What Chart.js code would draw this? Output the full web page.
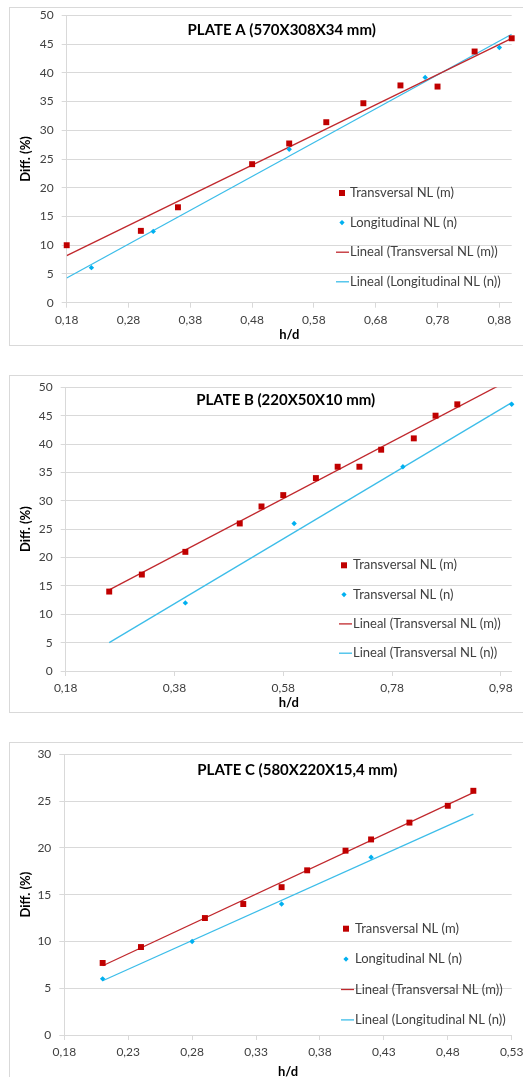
<!DOCTYPE html>
<html>
<head>
<meta charset="utf-8">
<script src="https://cdn.jsdelivr.net/npm/chart.js@4.4.0/dist/chart.umd.min.js"></script>
<style>
body{margin:0;background:#fff;overflow:hidden;width:523px;height:1077px;position:relative;}
.box{position:absolute;left:9px;width:530px;border:1px solid #d9d9d9;background:#fff;}
.box canvas{display:block;}
</style>
</head>
<body>
<div class="box" style="top:7px;height:337px"><canvas id="plateA" width="514" height="337"></canvas></div>
<div class="box" style="top:375px;height:336px"><canvas id="plateB" width="514" height="336"></canvas></div>
<div class="box" style="top:742px;height:340px"><canvas id="plateC" width="514" height="340"></canvas></div>
<script>
// PLATE A
var xTransA = [0.18, 0.30, 0.36, 0.48, 0.54, 0.60, 0.66, 0.72, 0.78, 0.84, 0.90];
var yTransA = [10.0, 12.5, 16.6, 24.1, 27.7, 31.4, 34.7, 37.8, 37.6, 43.7, 46.0];
var xLongA = [0.22, 0.32, 0.54, 0.76, 0.88];
var yLongA = [6.1, 12.4, 26.7, 39.2, 44.4];
var trendXA = [0.18, 0.90];
var trendTransA = [8.2, 46.0];
var trendLongA = [4.3, 46.7];
var ticksA = [0.18, 0.28, 0.38, 0.48, 0.58, 0.68, 0.78, 0.88];
var namesA = ['Transversal NL (m)', 'Longitudinal NL (n)', 'Lineal (Transversal NL (m))', 'Lineal (Longitudinal NL (n))'];

// PLATE B
var xTransB = [0.26, 0.32, 0.40, 0.50, 0.54, 0.58, 0.64, 0.68, 0.72, 0.76, 0.82, 0.86, 0.90];
var yTransB = [14, 17, 21, 26, 29, 31, 34, 36, 36, 39, 41, 45, 47];
var xLongB = [0.40, 0.60, 0.80, 1.00];
var yLongB = [12, 26, 36, 47];
var trendXB = [0.26, 1.00];
var trendTransB = [14.3, 51.5];
var trendLongB = [5.0, 47.3];
var ticksB = [0.18, 0.38, 0.58, 0.78, 0.98];
var namesB = ['Transversal NL (m)', 'Transversal NL (n)', 'Lineal (Transversal NL (m))', 'Lineal (Transversal NL (n))'];

// PLATE C
var xTransC = [0.21, 0.24, 0.29, 0.32, 0.35, 0.37, 0.40, 0.42, 0.45, 0.48, 0.50];
var yTransC = [7.7, 9.4, 12.5, 14.0, 15.8, 17.6, 19.7, 20.9, 22.7, 24.5, 26.1];
var xLongC = [0.21, 0.28, 0.35, 0.42];
var yLongC = [6.0, 10.0, 14.0, 19.0];
var trendXC = [0.21, 0.50];
var trendTransC = [7.4, 25.9];
var trendLongC = [5.8, 23.6];
var ticksC = [0.18, 0.23, 0.28, 0.33, 0.38, 0.43, 0.48, 0.53];
var namesC = ['Transversal NL (m)', 'Longitudinal NL (n)', 'Lineal (Transversal NL (m))', 'Lineal (Longitudinal NL (n))'];

var RED = '#c00000', BLUE = '#00b0f0';
var RED_LINE = '#c0282d', BLUE_LINE = '#3cbde9';
var GRID = '#d9d9d9', TEXT = '#404040';

Chart.defaults.font.family = "Lato, 'Open Sans', sans-serif";
Chart.defaults.color = TEXT;

function pts(xs, ys){
	var out = [];
	for (var i = 0; i < xs.length; i++) out.push({x: xs[i], y: ys[i]});
	return out;
}

// title and legend are drawn inside the plot, the way Excel does it
var plateDecor = {
	id: 'plateDecor',
	afterDraw: function(chart, args, opts){
		var ctx = chart.ctx;
		ctx.save();
		ctx.fillStyle = '#000';
		ctx.font = "bold 15px Lato, 'Open Sans', sans-serif";
		ctx.textAlign = 'center';
		ctx.textBaseline = 'middle';
		ctx.fillText(opts.title, opts.titleX, opts.titleY);

		ctx.font = "13px Lato, 'Open Sans', sans-serif";
		ctx.textAlign = 'left';
		chart.data.datasets.forEach(function(ds, i){
			var y = opts.top + i * opts.gap;
			if (ds.showLine) {
				ctx.strokeStyle = ds.borderColor;
				ctx.lineWidth = 1.3;
				ctx.beginPath();
				ctx.moveTo(opts.textX - 14, y);
				ctx.lineTo(opts.textX - 1, y);
				ctx.stroke();
			} else if (ds.pointStyle == 'rect') {
				ctx.fillStyle = ds.backgroundColor;
				ctx.fillRect(opts.markerX - 3, y - 3, 6, 6);
			} else {
				ctx.fillStyle = ds.backgroundColor;
				ctx.beginPath();
				ctx.moveTo(opts.markerX, y - 2.6);
				ctx.lineTo(opts.markerX + 2.6, y);
				ctx.lineTo(opts.markerX, y + 2.6);
				ctx.lineTo(opts.markerX - 2.6, y);
				ctx.closePath();
				ctx.fill();
			}
			ctx.fillStyle = TEXT;
			ctx.fillText(ds.label, opts.textX, y);
		});
		ctx.restore();
	}
};

function makeChart(id, c){
	var W = c.W, H = c.H, p = c.plot;
	return new Chart(document.getElementById(id), {
		type: 'scatter',
		data: {
			datasets: [
				{label: c.names[0], data: pts(c.xT, c.yT), pointStyle: 'rect', pointRadius: 4.2,
					backgroundColor: RED, borderColor: RED, borderWidth: 0, clip: false},
				{label: c.names[1], data: pts(c.xL, c.yL), pointStyle: 'rectRot', pointRadius: 2.7,
					backgroundColor: BLUE, borderColor: BLUE, borderWidth: 0, clip: false},
				{label: c.names[2], data: pts(c.trendX, c.trendT), showLine: true, pointRadius: 0,
					borderColor: RED_LINE, backgroundColor: RED_LINE, borderWidth: 1.3},
				{label: c.names[3], data: pts(c.trendX, c.trendL), showLine: true, pointRadius: 0,
					borderColor: BLUE_LINE, backgroundColor: BLUE_LINE, borderWidth: 1.3}
			]
		},
		options: {
			responsive: false,
			animation: false,
			layout: {padding: {left: 0, top: p.t, right: W - p.r, bottom: H - p.b - c.xAxisH}},
			plugins: {
				legend: {display: false},
				tooltip: {enabled: false},
				plateDecor: c.decor
			},
			scales: {
				x: {
					type: 'linear', min: c.xMin, max: c.xMax,
					afterBuildTicks: function(scale){
						scale.ticks = c.ticks.map(function(v){ return {value: v}; });
					},
					afterFit: function(scale){
						scale.height = c.xAxisH;
						scale.paddingLeft = 0; scale.paddingRight = 0;
					},
					ticks: {
						font: {size: 12}, color: TEXT, padding: 5, maxRotation: 0,
						callback: function(v){ return v.toFixed(2).replace('.', ','); }
					},
					grid: {drawOnChartArea: false, drawTicks: true, tickLength: 5, color: GRID},
					border: {color: GRID},
					title: {display: true, text: 'h/d', color: '#000', font: {size: 13, weight: 'bold'}, padding: {top: 0, bottom: 0}}
				},
				y: {
					min: 0, max: c.yMax,
					afterFit: function(scale){
						scale.width = p.l;
						scale.paddingTop = 0; scale.paddingBottom = 0;
					},
					ticks: {stepSize: 5, font: {size: 12}, color: TEXT, padding: 8},
					grid: {color: GRID, tickLength: 5},
					border: {color: GRID},
					title: {display: true, text: 'Diff. (%)', color: '#000', font: {size: 13, weight: 'bold'}, padding: {top: 8, bottom: 0}}
				}
			}
		},
		plugins: [plateDecor]
	});
}

makeChart('plateA', {
	W: 514, H: 337, plot: {l: 56.7, t: 7.3, r: 501.7, b: 294.7}, xAxisH: 40,
	xMin: 0.18, xMax: 0.90, yMax: 50, ticks: ticksA, names: namesA,
	xT: xTransA, yT: yTransA, xL: xLongA, yL: yLongA,
	trendX: trendXA, trendT: trendTransA, trendL: trendLongA,
	decor: {title: 'PLATE A (570X308X34 mm)', titleX: 271.7, titleY: 22, textX: 340, markerX: 332, top: 185, gap: 29.6}
});

makeChart('plateB', {
	W: 514, H: 336, plot: {l: 55.7, t: 11.3, r: 501.7, b: 295}, xAxisH: 40,
	xMin: 0.18, xMax: 1.00, yMax: 50, ticks: ticksB, names: namesB,
	xT: xTransB, yT: yTransB, xL: xLongB, yL: yLongB,
	trendX: trendXB, trendT: trendTransB, trendL: trendLongB,
	decor: {title: 'PLATE B (220X50X10 mm)', titleX: 275.7, titleY: 24, textX: 343, markerX: 334, top: 189.3, gap: 29.3}
});

makeChart('plateC', {
	W: 514, H: 340, plot: {l: 54.3, t: 11.3, r: 501.7, b: 292}, xAxisH: 44.5,
	xMin: 0.18, xMax: 0.53, yMax: 30, ticks: ticksC, names: namesC,
	xT: xTransC, yT: yTransC, xL: xLongC, yL: yLongC,
	trendX: trendXC, trendT: trendTransC, trendL: trendLongC,
	decor: {title: 'PLATE C (580X220X15,4 mm)', titleX: 287.3, titleY: 27, textX: 345, markerX: 336, top: 185.7, gap: 30.4}
});
</script>
</body>
</html>
